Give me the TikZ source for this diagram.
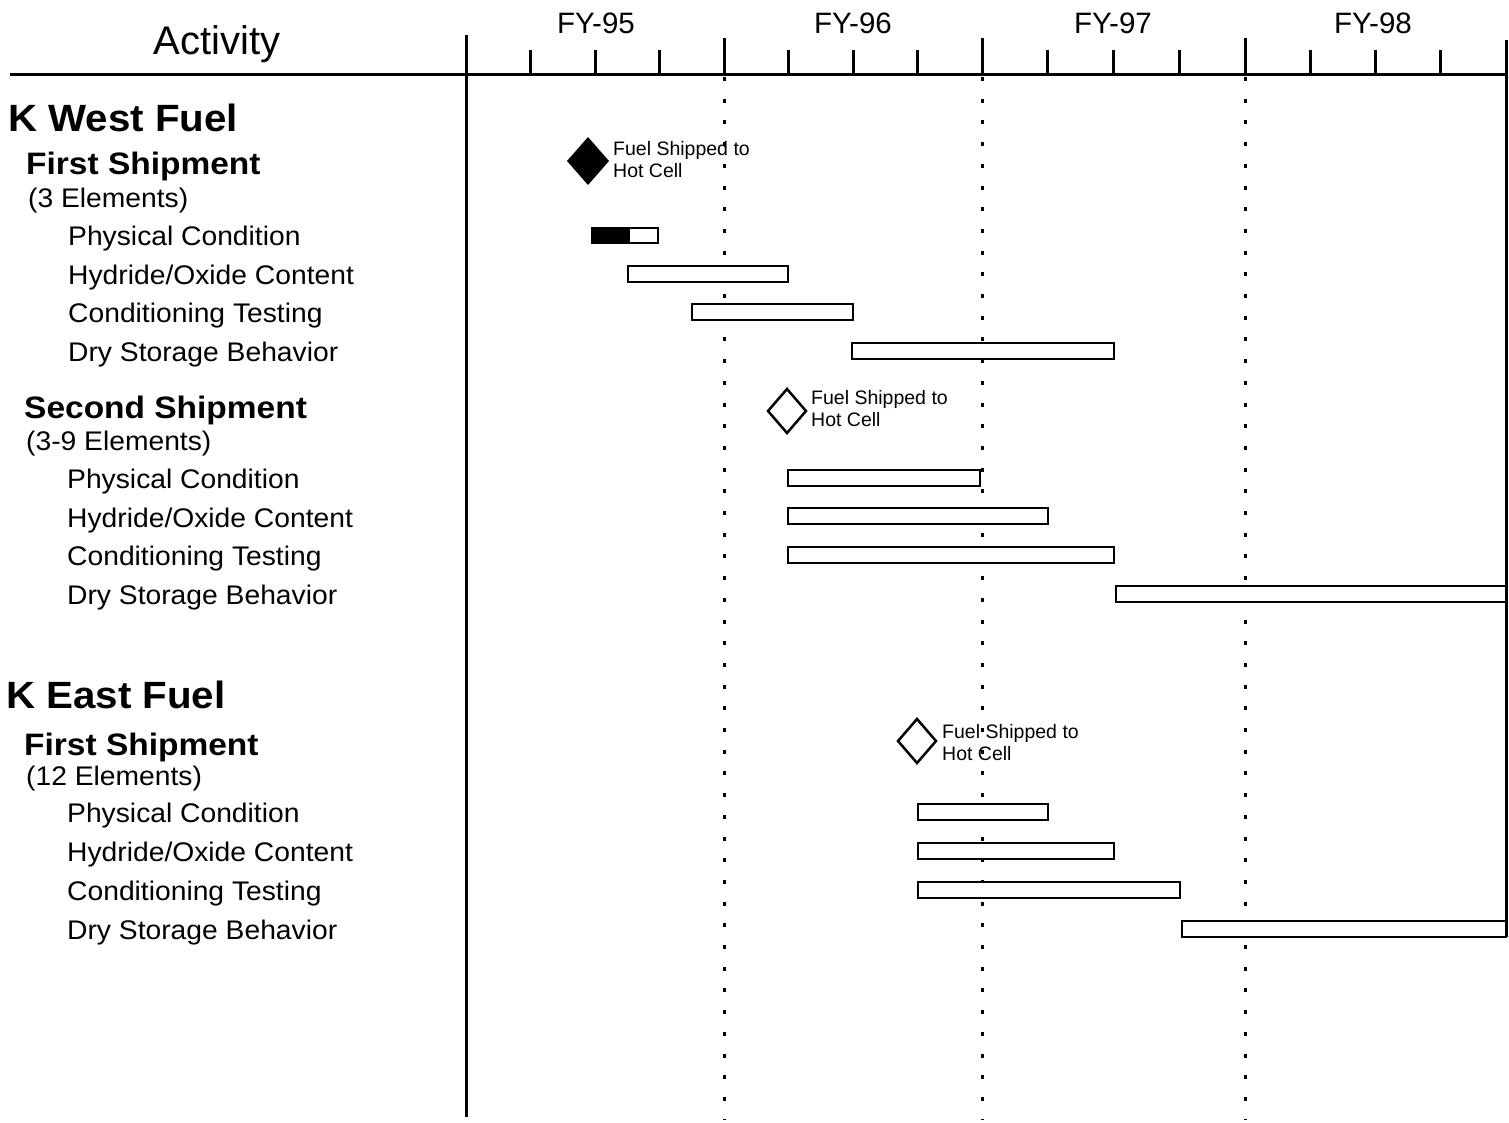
\documentclass[tikz,border=0pt]{standalone}
\usepackage{fontspec}
\setmainfont{Liberation Sans}
\newfontfamily\itemfont[FakeStretch=1.05]{Liberation Sans}
\newfontfamily\shipfont[FakeStretch=1.08]{Liberation Sans}
\newfontfamily\fuelfont[FakeStretch=1.06]{Liberation Sans}
\begin{document}
\begin{tikzpicture}[x=1pt,y=-1pt,
  axis/.style={line width=3pt},
  tick/.style={line width=3pt},
  dotline/.style={line width=3pt, dash pattern=on 4pt off 17.7pt},
  bar/.style={draw, line width=2.5pt, fill=white},
  item/.style={anchor=base west, inner sep=0pt, font=\itemfont\fontsize{26.9}{30}\selectfont},
  elem/.style={anchor=base west, inner sep=0pt, font=\itemfont\fontsize{26.9}{30}\selectfont},
  ship/.style={anchor=base west, inner sep=0pt, font=\shipfont\bfseries\fontsize{31}{35}\selectfont},
  fuel/.style={anchor=base west, inner sep=0pt, font=\fuelfont\bfseries\fontsize{38}{42}\selectfont},
  yr/.style={anchor=base, inner sep=0pt, font=\fontsize{29.5}{33}\selectfont},
  note/.style={anchor=base west, inner sep=0pt, font=\fontsize{19.5}{22}\selectfont},
  dmd/.style={line width=2.5pt, line join=miter}
]
\useasboundingbox (0,0) rectangle (1509,1122);

% header
\node[anchor=base, inner sep=0pt, font=\fontsize{40}{44}\selectfont] (activity) at (217,54) {Activity};
\node[yr] (fy95) at (596,33) {FY-95};
\node[yr] (fy96) at (853,33) {FY-96};
\node[yr] (fy97) at (1113,33) {FY-97};
\node[yr] (fy98) at (1373,33) {FY-98};

% dotted year boundaries
\foreach \x in {724,982,1245} \draw[dotline] (\x,77) -- (\x,1120);

% axes
\draw[axis] (10,74) -- (1507,74);
\draw[axis] (466,35) -- (466,1117);
\draw[axis] (1506,40) -- (1506,937);
\foreach \x in {724,982,1245} \draw[tick] (\x,38) -- (\x,74);
\foreach \x in {530.5,595,659.5,788.5,853,917.5,1047.75,1113.5,1179.25,1310,1375.5,1440.75}
  \draw[tick] (\x,50) -- (\x,74);

% K West Fuel
\node[fuel] (kwest) at (8,131) {K West Fuel};
\node[ship] (kw1) at (26,174) {First Shipment};
\node[elem] (kw1e) at (28,207) {(3 Elements)};
\node[item] (kw1a) at (68,245) {Physical Condition};
\node[item] (kw1b) at (68,284) {Hydride/Oxide Content};
\node[item] (kw1c) at (68,322) {Conditioning Testing};
\node[item] (kw1d) at (68,361) {Dry Storage Behavior};

\node[ship] (kw2) at (24,418) {Second Shipment};
\node[elem] (kw2e) at (26,450) {(3-9 Elements)};
\node[item] (kw2a) at (67,488) {Physical Condition};
\node[item] (kw2b) at (67,527) {Hydride/Oxide Content};
\node[item] (kw2c) at (67,565) {Conditioning Testing};
\node[item] (kw2d) at (67,604) {Dry Storage Behavior};

% K East Fuel
\node[fuel] (keast) at (6,708) {K East Fuel};
\node[ship] (ke1) at (24,755) {First Shipment};
\node[elem] (ke1e) at (26,785) {(12 Elements)};
\node[item] (ke1a) at (67,822) {Physical Condition};
\node[item] (ke1b) at (67,861) {Hydride/Oxide Content};
\node[item] (ke1c) at (67,900) {Conditioning Testing};
\node[item] (ke1d) at (67,939) {Dry Storage Behavior};

% milestones
\fill[dmd] (588,137) -- (609,161) -- (588,185) -- (567,161) -- cycle;
\node[note] (n1a) at (613,155) {Fuel Shipped to};
\node[note] (n1b) at (613,177) {Hot Cell};

\draw[dmd] (787,389) -- (806,411) -- (787,433) -- (768,411) -- cycle;
\node[note] (n2a) at (811,404) {Fuel Shipped to};
\node[note] (n2b) at (811,426) {Hot Cell};

\draw[dmd] (917,719) -- (936,741) -- (917,763) -- (898,741) -- cycle;
\node[note] (n3a) at (942,738) {Fuel Shipped to};
\node[note] (n3b) at (942,760) {Hot Cell};

% bars K West first shipment
\draw[bar] (592,228) rectangle (658,243);
\fill (592,228) rectangle (630,243);
\draw[bar] (628,266) rectangle (788,282);
\draw[bar] (692,304) rectangle (853,320);
\draw[bar] (852,343) rectangle (1114,359);
% bars K West second shipment
\draw[bar] (788,470) rectangle (980,486);
\draw[bar] (788,508) rectangle (1048,524);
\draw[bar] (788,547) rectangle (1114,563);
\draw[bar] (1116,586) rectangle (1506,602);
% bars K East first shipment
\draw[bar] (918,804) rectangle (1048,820);
\draw[bar] (918,843) rectangle (1114,859);
\draw[bar] (918,882) rectangle (1180,898);
\draw[bar] (1182,921) rectangle (1506,937);
\end{tikzpicture}
\end{document}
